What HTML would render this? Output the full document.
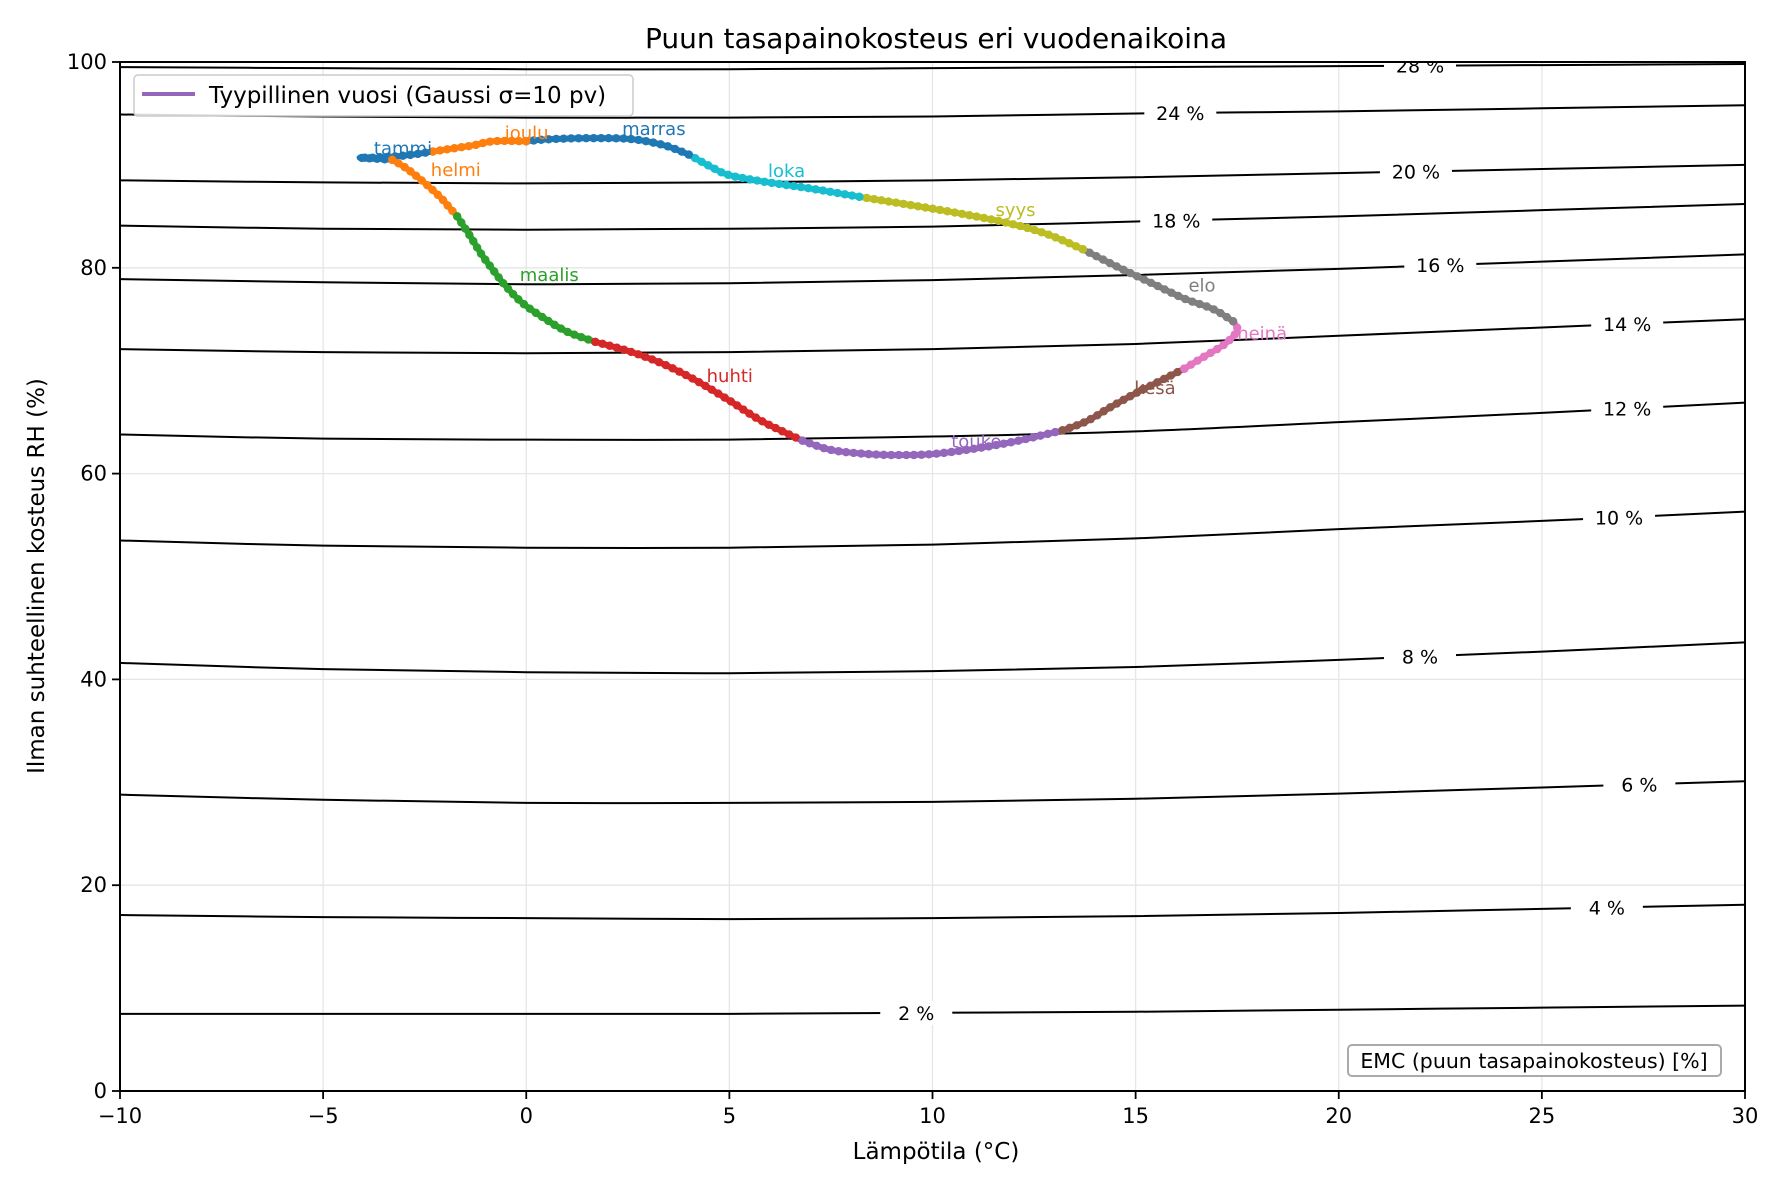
<!DOCTYPE html>
<html><head><meta charset="utf-8"><style>
body{margin:0;background:#fff}
svg{display:block;font-family:"DejaVu Sans","Liberation Sans",sans-serif}
</style></head><body>
<svg id="chart" width="1785" height="1190" viewBox="0 0 1785 1190">
<g id="grid"></g>
<g id="contours"></g>
<g id="path"></g>
<g id="axes"></g>
<text x="936" y="48" text-anchor="middle" font-size="28">Puun tasapainokosteus eri vuodenaikoina</text>
<text x="936" y="1159" text-anchor="middle" font-size="23">Lämpötila (°C)</text>
<text x="44" y="576" text-anchor="middle" font-size="23" transform="rotate(-90 44 576)">Ilman suhteellinen kosteus RH (%)</text>
<g>
<rect x="134" y="75" width="499" height="41" rx="4" fill="#fff" fill-opacity="0.85" stroke="#ccc" stroke-width="1.5"/>
<line x1="142" y1="94" x2="195" y2="94" stroke="#9467bd" stroke-width="4"/>
<text x="209" y="103" font-size="23">Tyypillinen vuosi (Gaussi σ=10 pv)</text>
</g>
<g>
<rect x="1348" y="1045" width="373" height="31" rx="4" fill="#fff" stroke="#aaa" stroke-width="2"/>
<text x="1534" y="1068" text-anchor="middle" font-size="20.5">EMC (puun tasapainokosteus) [%]</text>
</g>
</svg>
<script>
const X0=120,X1=1745,Y0=1091,Y1=62;
const xMin=-10,xMax=30,yMin=0,yMax=100;
const xTicks=[-10,-5,0,5,10,15,20,25,30];
const yTicks=[0,20,40,60,80,100];
const contourT=[-10,-5,0,5,10,15,20,25,30];
const contourLevels=[2,4,6,8,10,12,14,16,18,20,24,28];
const contour2=[7.5,7.5,7.5,7.5,7.6,7.7,7.9,8.1,8.3];
const contour4=[17.1,16.9,16.8,16.7,16.8,17.0,17.3,17.7,18.1];
const contour6=[28.8,28.3,28.0,28.0,28.1,28.4,28.9,29.5,30.1];
const contour8=[41.6,41.0,40.7,40.6,40.8,41.2,41.9,42.7,43.6];
const contour10=[53.5,53.0,52.8,52.8,53.1,53.7,54.6,55.4,56.3];
const contour12=[63.8,63.4,63.3,63.3,63.6,64.1,65.0,65.9,66.9];
const contour14=[72.1,71.8,71.7,71.8,72.1,72.6,73.4,74.2,75.0];
const contour16=[78.9,78.6,78.4,78.5,78.8,79.3,79.9,80.6,81.3];
const contour18=[84.1,83.8,83.7,83.8,84.0,84.5,85.0,85.6,86.2];
const contour20=[88.5,88.3,88.2,88.3,88.5,88.8,89.2,89.6,90.0];
const contour24=[94.9,94.7,94.6,94.6,94.7,95.0,95.2,95.5,95.8];
const contour28=[99.5,99.4,99.3,99.3,99.4,99.5,99.6,99.7,99.8];
const contourLabelT=[9.6,26.6,27.4,22.0,26.9,27.1,27.1,22.5,16.0,21.9,16.1,22.0];
const contourData=[contour2,contour4,contour6,contour8,contour10,contour12,contour14,contour16,contour18,contour20,contour24,contour28];

const monthNames=["tammi","helmi","maalis","huhti","touko","kesä","heinä","elo","syys","loka","marras","joulu"];
const monthColors=["#1f77b4","#ff7f0e","#2ca02c","#d62728","#9467bd","#8c564b","#e377c2","#7f7f7f","#bcbd22","#17becf","#1f77b4","#ff7f0e"];
const tammiT=[-2.3,-2.8,-3.3,-3.8,-4.1,-3.7,-3.3], tammiRH=[91.3,91.0,90.8,90.7,90.7,90.6,90.5];
const helmiT=[-3.3,-3.0,-2.7,-2.4,-2.1,-1.9,-1.7], helmiRH=[90.5,89.8,88.9,87.9,86.8,85.9,85.0];
const maalisT=[-1.7,-1.4,-1.1,-0.8,-0.5,-0.1,0.4,1.0,1.7], maalisRH=[85.0,83.2,81.3,79.7,78.2,76.6,75.2,73.8,72.8];
const huhtiT=[1.7,2.6,3.4,4.2,5.0,5.8,6.8], huhtiRH=[72.8,71.8,70.6,69.0,67.1,65.1,63.2];
const toukoT=[6.8,7.5,8.4,9.2,10.0,11.0,12.0,13.2], toukoRH=[63.2,62.3,61.9,61.8,61.9,62.4,63.1,64.2];
const kesaT=[13.2,13.8,14.4,15.0,15.6,16.2], kesaRH=[64.2,65.1,66.5,67.8,69.0,70.2];
const heinaT=[16.2,16.7,17.2,17.5,17.4], heinaRH=[70.2,71.4,72.6,73.9,74.8];
const eloT=[17.4,16.9,16.2,15.4,14.6,13.7], eloRH=[74.8,76.0,77.0,78.5,80.0,81.8];
const syysT=[13.7,12.8,11.8,10.5,9.3,8.2], syysRH=[81.8,83.3,84.4,85.4,86.2,86.9];
const lokaT=[8.2,7.0,5.8,5.0,4.6,4.0], lokaRH=[86.9,87.7,88.4,89.0,89.7,91.0];
const marrasT=[4.0,3.4,2.6,1.6,0.6,0.0], marrasRH=[91.0,91.9,92.5,92.6,92.5,92.3];
const jouluT=[0.0,-0.8,-1.3,-1.8,-2.3], jouluRH=[92.3,92.3,91.9,91.6,91.3];
const monthT=[tammiT,helmiT,maalisT,huhtiT,toukoT,kesaT,heinaT,eloT,syysT,lokaT,marrasT,jouluT];
const monthRH=[tammiRH,helmiRH,maalisRH,huhtiRH,toukoRH,kesaRH,heinaRH,eloRH,syysRH,lokaRH,marrasRH,jouluRH];
const labelT=[-3.75,-2.35,-0.16,4.44,10.46,14.97,17.5,16.3,11.55,5.95,2.36,-0.53];
const labelRH=[91.6,89.5,79.3,69.5,63.1,68.3,73.6,78.3,85.6,89.4,93.5,93.1];

const NS="http://www.w3.org/2000/svg";
const sx=v=>X0+(v-xMin)/(xMax-xMin)*(X1-X0);
const sy=v=>Y0-(v-yMin)/(yMax-yMin)*(Y0-Y1);
function mk(tag,attrs,parent){const e=document.createElementNS(NS,tag);for(const k in attrs)e.setAttribute(k,attrs[k]);parent.appendChild(e);return e;}
function smooth(pts){let d=`M${pts[0][0]},${pts[0][1]}`;for(let i=0;i<pts.length-1;i++){const p0=pts[Math.max(i-1,0)],p1=pts[i],p2=pts[i+1],p3=pts[Math.min(i+2,pts.length-1)];const c1=[p1[0]+(p2[0]-p0[0])/6,p1[1]+(p2[1]-p0[1])/6],c2=[p2[0]-(p3[0]-p1[0])/6,p2[1]-(p3[1]-p1[1])/6];d+=` C${c1[0]},${c1[1]} ${c2[0]},${c2[1]} ${p2[0]},${p2[1]}`;}return d;}

const grid=document.getElementById('grid');
xTicks.forEach(t=>{const l=mk('line',{x1:sx(t),x2:sx(t),y1:Y1,y2:Y0,stroke:'#e6e6e6','stroke-width':1.3},grid);

});
yTicks.forEach(t=>{const l=mk('line',{x1:X0,x2:X1,y1:sy(t),y2:sy(t),stroke:'#e6e6e6','stroke-width':1.3},grid);

});

const cg=document.getElementById('contours');
const defs=mk('defs',{},cg);
const cp=mk('clipPath',{id:'plotclip'},defs);
mk('rect',{x:X0,y:Y1,width:X1-X0,height:Y0-Y1},cp);
const cinner=mk('g',{'clip-path':'url(#plotclip)'},cg);
contourLevels.forEach((lv,i)=>{
  const vals=contourData[i];
  const pts=contourT.map((t,j)=>[sx(t),sy(vals[j])]);
  const p=mk('path',{d:smooth(pts),fill:'none',stroke:'#000','stroke-width':2},cinner);
  
  
  const lt=contourLabelT[i];
  let k=0;while(k<contourT.length-2&&contourT[k+1]<lt)k++;
  const f=(lt-contourT[k])/(contourT[k+1]-contourT[k]);
  const rv=vals[k]+(vals[k+1]-vals[k])*f;
  const lx=sx(lt),ly=sy(rv);
  const r=mk('rect',{x:lx-36,y:ly-12,width:72,height:24,fill:'#fff'},cinner);
  
  
  const tx=mk('text',{x:lx,y:ly+7,'text-anchor':'middle','font-size':19},cinner);
  tx.textContent=lv+' %';
  
  
});

const pg=document.getElementById('path');
monthNames.forEach((m,i)=>{
  const pts=monthT[i].map((t,j)=>[sx(t),sy(monthRH[i][j])]);
  const g=mk('g',{},pg);
  
  
  const p=mk('path',{d:smooth(pts),fill:'none',stroke:monthColors[i],'stroke-width':6,'stroke-linecap':'round'},g);
  
  
  const L=p.getTotalLength();
  const n=Math.max(2,Math.round(L/7.5));
  for(let s=0;s<=n;s++){const q=p.getPointAtLength(L*s/n);
    const c=mk('circle',{cx:q.x,cy:q.y,r:4.2,fill:monthColors[i]},g);
    
    }
});
monthNames.forEach((m,i)=>{
  const t=mk('text',{x:sx(labelT[i]),y:sy(labelRH[i])+6,'font-size':18,fill:monthColors[i]},pg);
  t.textContent=m;
  
  
});

const ag=document.getElementById('axes');
mk('rect',{x:X0,y:Y1,width:X1-X0,height:Y0-Y1,fill:'none',stroke:'#000','stroke-width':2},ag);
xTicks.forEach(t=>{
  mk('line',{x1:sx(t),x2:sx(t),y1:Y0,y2:Y0+8,stroke:'#000','stroke-width':1.8},ag);
  const tx=mk('text',{x:sx(t),y:Y0+32,'text-anchor':'middle','font-size':21},ag);
  tx.textContent=t<0?'\u2212'+Math.abs(t):String(t);
  
  
});
yTicks.forEach(t=>{
  mk('line',{x1:X0-8,x2:X0,y1:sy(t),y2:sy(t),stroke:'#000','stroke-width':1.8},ag);
  const tx=mk('text',{x:X0-13,y:sy(t)+7,'text-anchor':'end','font-size':21},ag);
  tx.textContent=String(t);
  
  
});
</script>
</body></html>
